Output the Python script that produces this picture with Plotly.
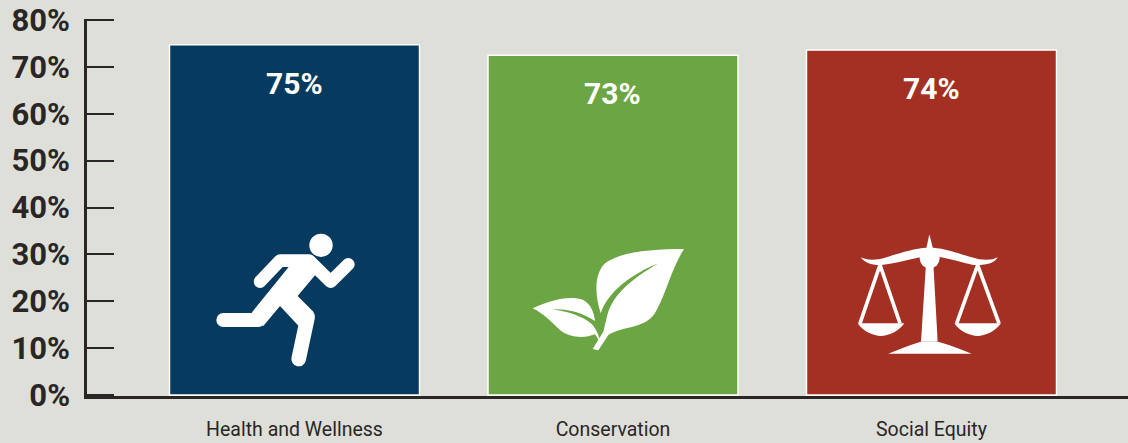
import base64
import plotly.graph_objects as go

categories = ["Health and Wellness", "Conservation", "Social Equity"]
values = [74.7, 72.5, 73.6]
value_labels = ["75%", "73%", "74%"]
bar_colors = ["#063a5e", "#6ca544", "#a33022"]
y_ticks = [0, 10, 20, 30, 40, 50, 60, 70, 80]
y_tick_labels = ["0%", "10%", "20%", "30%", "40%", "50%", "60%", "70%", "80%"]

W, H = 1128, 443
L, R, T, B = 87, 0, 19, 47
INK = "#2a2626"
BG = "#dddfd8"

runner = """
<circle cx="363" cy="76" r="35"/>
<path d="M275,130 L340,108 L350,160 L293,228 L340,275 L296,318 L240,258 L190,318 L155,278 Z"/>
<polyline points="180,185 240,122 328,122 392,185 445,133" fill="none" stroke="#fff" stroke-width="38" stroke-linecap="round" stroke-linejoin="round"/>
<polyline points="70,300 175,300" fill="none" stroke="#fff" stroke-width="42" stroke-linecap="round"/>
<polyline points="323,290 296,417" fill="none" stroke="#fff" stroke-width="44" stroke-linecap="round"/>
"""
leaf = """
<path d="M492,42 C400,42 300,50 255,85 C225,115 222,170 242,235 C265,170 330,120 415,85 C340,130 280,175 262,240 L250,290 L218,342 L235,346 L265,300 C310,270 380,285 410,225 C440,170 455,100 492,42 Z"/>
<path d="M38,220 C90,195 150,180 190,195 C215,210 222,235 225,258 C190,235 150,222 95,222 C150,230 205,250 222,275 C232,290 238,305 240,320 L225,298 C195,310 150,310 120,285 C95,262 70,235 38,220 Z"/>
"""
scale = """
<path d="M253,28 L265,75 L243,75 Z"/>
<path d="M47,97 C70,108 100,105 130,95 C170,82 210,70 245,68 L265,68 C300,70 340,85 380,97 C410,107 440,107 458,97 C450,115 420,122 385,120 C350,112 320,102 282,95 L225,97 C190,105 150,115 110,120 C85,122 60,115 47,97 Z"/>
<circle cx="254" cy="100" r="30"/>
<path d="M243,115 L265,115 L278,350 L228,350 Z"/>
<path d="M130,386 C170,370 200,358 228,350 L278,350 C310,358 340,370 380,386 Z"/>
<path d="M45,295 L105,120 L165,295" fill="none" stroke="#fff" stroke-width="11"/>
<path d="M38,295 L178,295 C160,320 130,333 108,333 C85,333 55,320 38,295 Z"/>
<path d="M335,295 L398,120 L462,295" fill="none" stroke="#fff" stroke-width="11"/>
<path d="M328,295 L468,295 C450,320 420,333 398,333 C375,333 345,320 328,295 Z"/>
"""


def icon(body, left, top, w, h):
    svg = (f'<svg xmlns="http://www.w3.org/2000/svg" width="{w*3}" height="{h*3}" '
           f'viewBox="0 0 {w*3} {h*3}" fill="#fff">{body}</svg>')
    uri = "data:image/svg+xml;base64," + base64.b64encode(svg.encode()).decode()
    pw, ph = W - L - R, H - T - B
    return dict(source=uri, xref="paper", yref="paper", xanchor="left", yanchor="top",
                x=(left - L) / pw, y=1 - (top - T) / ph, sizex=w / pw, sizey=h / ph,
                sizing="stretch", layer="above")


fig = go.Figure(go.Bar(
    x=categories, y=values,
    marker=dict(color=bar_colors, line=dict(color="#ffffff", width=1.5)),
    hoverinfo="skip",
))

for c, v, t in zip(categories, values, value_labels):
    fig.add_annotation(x=c, y=v, yref="y", yanchor="middle", yshift=-38.5, text=f"<b>{t}</b>",
                       showarrow=False,
                       font=dict(family="Roboto, sans-serif", size=30, color="#ffffff"))

fig.update_layout(
    width=W, height=H, autosize=False,
    margin=dict(l=L, r=R, t=T, b=B, pad=0),
    paper_bgcolor=BG, plot_bgcolor=BG,
    bargap=0.215, showlegend=False,
    images=[
        icon(runner, 200, 220, 170, 150),
        icon(leaf, 520, 235, 180, 125),
        icon(scale, 845, 225, 170, 135),
    ],
    xaxis=dict(
        type="category", categoryorder="array", categoryarray=categories,
        range=[-0.6515, 2.617], showgrid=False, zeroline=False,
        showline=True, linecolor=INK, linewidth=2.5,
        ticks="outside", ticklen=14, tickcolor="rgba(0,0,0,0)",
        tickfont=dict(family="Roboto, sans-serif", size=19.5, color=INK),
    ),
    yaxis=dict(
        range=[-0.22, 80.22], tickmode="array", tickvals=y_ticks, ticktext=[f"<b>{s}</b>" for s in y_tick_labels],
        showgrid=False, zeroline=False,
        showline=True, linecolor=INK, linewidth=2.5,
        ticks="inside", ticklen=27, tickwidth=2, tickcolor=INK,
        ticklabelstandoff=8,
        tickfont=dict(family="Roboto, sans-serif", size=31, color=INK),
    ),
)

fig.write_html(
    "out.html",
    config=dict(displayModeBar=False),
    post_script=f"document.documentElement.style.background='{BG}';document.body.style.margin='0';document.body.style.overflow='hidden';",
)
